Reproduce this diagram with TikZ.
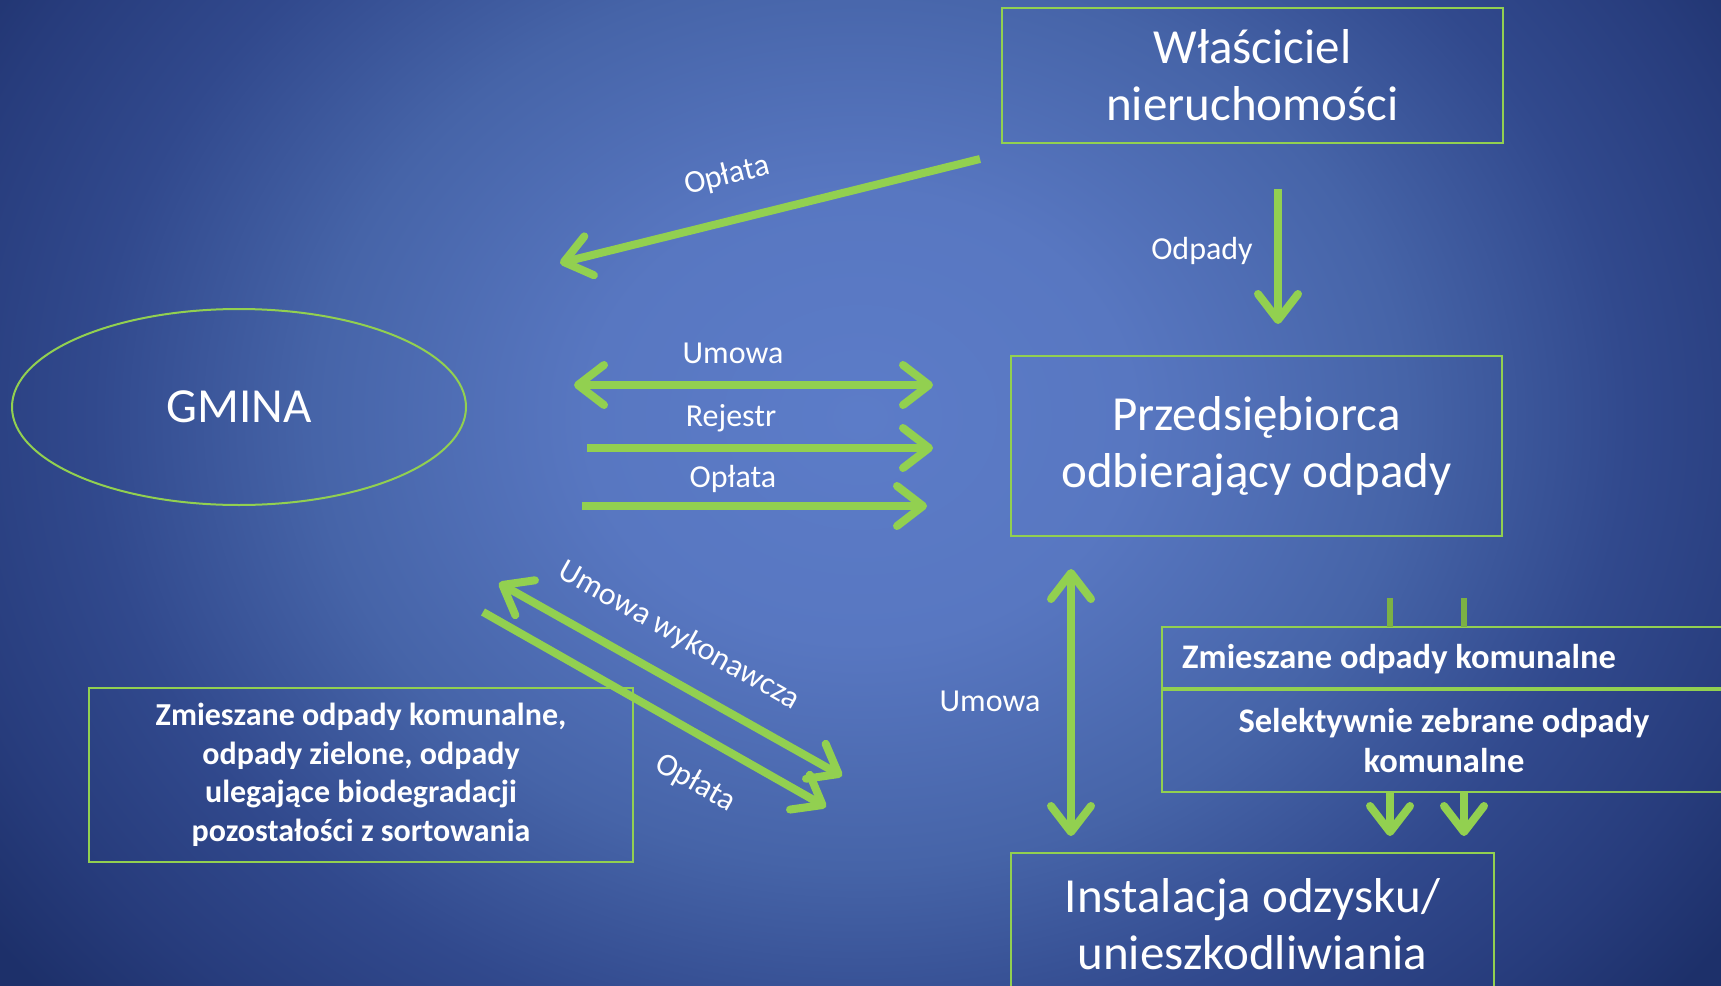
\documentclass[tikz,border=0pt]{standalone}
\usepackage{fontspec}
\setmainfont{Carlito}
\usetikzlibrary{arrows.meta,shapes.geometric}
\definecolor{lg}{HTML}{92D050}
\definecolor{bgA}{HTML}{5C7CC8}
\definecolor{bgB}{HTML}{5877C1}
\definecolor{bgC}{HTML}{4664A8}
\definecolor{bgD}{HTML}{31498D}
\definecolor{bgE}{HTML}{273C7C}
\definecolor{bgF}{HTML}{1D306A}
\pgfdeclareradialshading{bgshade}{\pgfpoint{0bp}{0bp}}{color(0bp)=(bgA); color(16bp)=(bgB); color(32bp)=(bgC); color(45bp)=(bgD); color(55bp)=(bgE); color(63bp)=(bgF); color(71bp)=(bgF)}
\tikzset{
 box/.style={draw=lg, line width=2pt, text=white, align=center, inner sep=0pt},
 bigtxt/.style={font=\fontsize{49}{57}\selectfont},
 boldtxt/.style={font=\fontsize{32}{38.5}\selectfont\bfseries},
 boldbig/.style={font=\fontsize{34.5}{40}\selectfont\bfseries},
 lbl/.style={text=white, font=\fontsize{32}{38}\selectfont, inner sep=0pt},
 flow/.style={draw=lg, line width=8pt, -{Straight Barb[length=26pt,width=40pt,round]}},
 flowtwo/.style={draw=lg, line width=8pt, {Straight Barb[length=26pt,width=40pt,round]}-{Straight Barb[length=26pt,width=40pt,round]}},
 tick/.style={draw=lg!85!black, line width=6pt},
}
\begin{document}
\begin{tikzpicture}[x=1pt,y=-1pt]
\useasboundingbox (0,0) rectangle (1721,985);
\clip (0,0) rectangle (1721,985);
\fill[bgF] (0,0) rectangle (1721,985);
\node[inner sep=0pt, xscale=17, yscale=14] (bg) at (860,417) {\pgfuseshading{bgshade}};

% nodes
\node[box, bigtxt, minimum width=501pt, minimum height=135pt] (wl) at (1252.5,75.5) {Właściciel\\nieruchomości};
\node[box, bigtxt, minimum width=491pt, minimum height=180pt] (prz) at (1256.5,446) {Przedsiębiorca\\odbierający odpady};
\node[box, bigtxt, minimum width=483pt, minimum height=142pt] (inst) at (1252.5,924) {Instalacja odzysku/\\unieszkodliwiania};
\node[draw=lg, line width=2pt, ellipse, minimum width=454pt, minimum height=196pt, inner sep=0pt, text=white, font=\fontsize{49}{57}\selectfont] (gm) at (239,407) {GMINA};
\node[box, boldtxt, minimum width=544pt, minimum height=174pt] (lb) at (361,775) {Zmieszane odpady komunalne,\\odpady zielone, odpady\\ulegające biodegradacji\\pozostałości z sortowania};
\node[box, minimum width=568pt, minimum height=61pt] (zm) at (1446,657.5) {};
\node[text=white, boldbig, anchor=west, inner sep=0pt] (zmt) at (1182,659) {Zmieszane odpady komunalne};
\node[box, boldbig, minimum width=564pt, minimum height=102pt] (sel) at (1444,741) {Selektywnie zebrane odpady\\komunalne};

% coordinates
\coordinate (a1s) at (980,159);  \coordinate (a1e) at (560,263);
\coordinate (a2s) at (1278,189); \coordinate (a2e) at (1278,324);
\coordinate (u1) at (574,385);   \coordinate (u2) at (933,385);
\coordinate (r1) at (587,448);   \coordinate (r2) at (933,448);
\coordinate (o1) at (582,506);   \coordinate (o2) at (927,506);
\coordinate (v1) at (1071,569);  \coordinate (v2) at (1071,836);
\coordinate (d1) at (499,583);   \coordinate (d2) at (842,776);
\coordinate (e1) at (483,612);   \coordinate (e2) at (826,807);
\coordinate (t1a) at (1390,598); \coordinate (t1b) at (1390,627);
\coordinate (t2a) at (1464,598); \coordinate (t2b) at (1464,627);
\coordinate (s1a) at (1390,792); \coordinate (s1b) at (1390,836);
\coordinate (s2a) at (1464,792); \coordinate (s2b) at (1464,836);

% connectors
\draw[flow] (a1s) -- (a1e);
\draw[flow] (a2s) -- (a2e);
\draw[flowtwo] (u1) -- (u2);
\draw[flow] (r1) -- (r2);
\draw[flow] (o1) -- (o2);
\draw[flowtwo] (v1) -- (v2);
\draw[flowtwo] (d1) -- (d2);
\draw[flow] (e1) -- (e2);
\draw[tick] (t1a) -- (t1b);
\draw[tick] (t2a) -- (t2b);
\draw[flow] (s1a) -- (s1b);
\draw[flow] (s2a) -- (s2b);

% labels
\node[lbl, rotate=14] (l1) at (727,176) {Opłata};
\node[lbl] (l2) at (1202,251) {Odpady};
\node[lbl] (l3) at (733,353) {Umowa};
\node[lbl] (l4) at (731,418) {Rejestr};
\node[lbl] (l5) at (733,479) {Opłata};
\node[lbl] (l6) at (990,701) {Umowa};
\node[lbl, rotate=-29.4] (l7) at (679,636) {Umowa wykonawcza};
\node[lbl, rotate=-29.4] (l8) at (695,783) {Opłata};
\end{tikzpicture}
\end{document}
